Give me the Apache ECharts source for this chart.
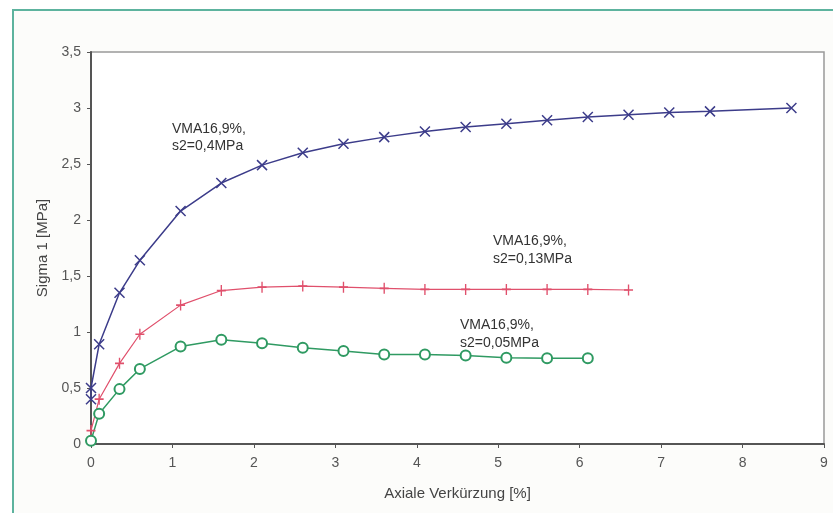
<!DOCTYPE html>
<html>
<head>
<meta charset="utf-8">
<script src="https://cdn.jsdelivr.net/npm/echarts@6/dist/echarts.min.js"></script>
<style>
  html, body { margin: 0; padding: 0; background: #ffffff; }
  #chart { width: 833px; height: 513px; }
</style>
</head>
<body>
<div id="chart"></div>
<script>
// values
const xTicks = [0, 1, 2, 3, 4, 5, 6, 7, 8, 9];
const yTicks = [0, 0.5, 1, 1.5, 2, 2.5, 3, 3.5];

const blueX = [0, 0, 0.1, 0.35, 0.6, 1.1, 1.6, 2.1, 2.6, 3.1, 3.6, 4.1, 4.6, 5.1, 5.6, 6.1, 6.6, 7.1, 7.6, 8.6];
const blueY = [0.4, 0.5, 0.89, 1.35, 1.64, 2.08, 2.33, 2.49, 2.6, 2.68, 2.74, 2.79, 2.83, 2.86, 2.89, 2.92, 2.94, 2.96, 2.97, 3.0];

const redX = [0, 0.1, 0.35, 0.6, 1.1, 1.6, 2.1, 2.6, 3.1, 3.6, 4.1, 4.6, 5.1, 5.6, 6.1, 6.6];
const redY = [0.12, 0.4, 0.72, 0.98, 1.24, 1.37, 1.4, 1.41, 1.4, 1.39, 1.38, 1.38, 1.38, 1.38, 1.38, 1.375];

const greenX = [0, 0.1, 0.35, 0.6, 1.1, 1.6, 2.1, 2.6, 3.1, 3.6, 4.1, 4.6, 5.1, 5.6, 6.1];
const greenY = [0.03, 0.27, 0.49, 0.67, 0.87, 0.93, 0.9, 0.86, 0.83, 0.8, 0.8, 0.79, 0.77, 0.765, 0.765];

const labels = [
  "VMA16,9%,\ns2=0,4MPa",
  "VMA16,9%,\ns2=0,13MPa",
  "VMA16,9%,\ns2=0,05MPa"
];

const pairs = (xs, ys) => xs.map((x, i) => [x, ys[i]]);
const fmt = v => String(v).replace(".", ",");

const font = "'Liberation Sans', Arial, sans-serif";
const blue = "#3c3c8a";
const red = "#e0506c";
const green = "#2f9a62";

let chart = echarts.init(document.getElementById("chart"));

let option = {
  backgroundColor: "#ffffff",
  animation: false,
  textStyle: { fontFamily: font },
  graphic: [
    {
      type: "rect",
      shape: { x: 13, y: 10, width: 900, height: 600 },
      style: { fill: "#fcfcfa", stroke: "#5db39e", lineWidth: 2 },
      z: -10
    },
    {
      type: "text", left: 172, top: 121,
      style: { text: labels[0], font: "14px " + font, fill: "#333", lineHeight: 17 }
    },
    {
      type: "text", left: 493, top: 232,
      style: { text: labels[1], font: "14px " + font, fill: "#333", lineHeight: 18 }
    },
    {
      type: "text", left: 460, top: 316,
      style: { text: labels[2], font: "14px " + font, fill: "#333", lineHeight: 18 }
    }
  ],
  grid: {
    left: 91, right: 9, top: 52, bottom: 69,
    show: true, borderColor: "#999", borderWidth: 1.5, backgroundColor: "#ffffff"
  },
  xAxis: {
    type: "value",
    min: 0, max: 9, interval: 1,
    name: "Axiale Verkürzung [%]",
    nameLocation: "middle",
    nameGap: 42,
    nameTextStyle: { fontSize: 15, color: "#444" },
    axisLine: { lineStyle: { color: "#555", width: 2 } },
    axisTick: { length: 4, lineStyle: { color: "#555" } },
    axisLabel: { fontSize: 14, color: "#555", margin: 12, formatter: v => xTicks.includes(v) ? fmt(v) : "" },
    splitLine: { show: false }
  },
  yAxis: {
    type: "value",
    min: 0, max: 3.5, interval: 0.5,
    name: "Sigma 1 [MPa]",
    nameLocation: "middle",
    nameGap: 41,
    nameTextStyle: { fontSize: 15, color: "#444" },
    axisLine: { show: true, lineStyle: { color: "#555", width: 2 } },
    axisTick: { show: true, length: 4, lineStyle: { color: "#555" } },
    axisLabel: { fontSize: 14, color: "#555", margin: 10, formatter: v => yTicks.includes(v) ? fmt(v) : "" },
    splitLine: { show: false }
  },
  series: [
    {
      name: "0,4MPa", type: "line",
      data: pairs(blueX, blueY),
      symbol: "path://M0,0L10,10M10,0L0,10",
      symbolSize: 10,
      lineStyle: { color: blue, width: 1.5 },
      itemStyle: { color: blue, borderColor: blue, borderWidth: 1.5 }
    },
    {
      name: "0,13MPa", type: "line",
      data: pairs(redX, redY),
      symbol: "path://M5,0L5,10M0,5L10,5",
      symbolSize: [9, 11],
      lineStyle: { color: red, width: 1.2 },
      itemStyle: { color: red, borderColor: red, borderWidth: 1.5 }
    },
    {
      name: "0,05MPa", type: "line",
      data: pairs(greenX, greenY),
      symbol: "emptyCircle",
      symbolSize: 10,
      lineStyle: { color: green, width: 1.5 },
      itemStyle: { color: green, borderColor: green, borderWidth: 1.5 }
    }
  ]
};

chart.setOption(option);
</script>
</body>
</html>
